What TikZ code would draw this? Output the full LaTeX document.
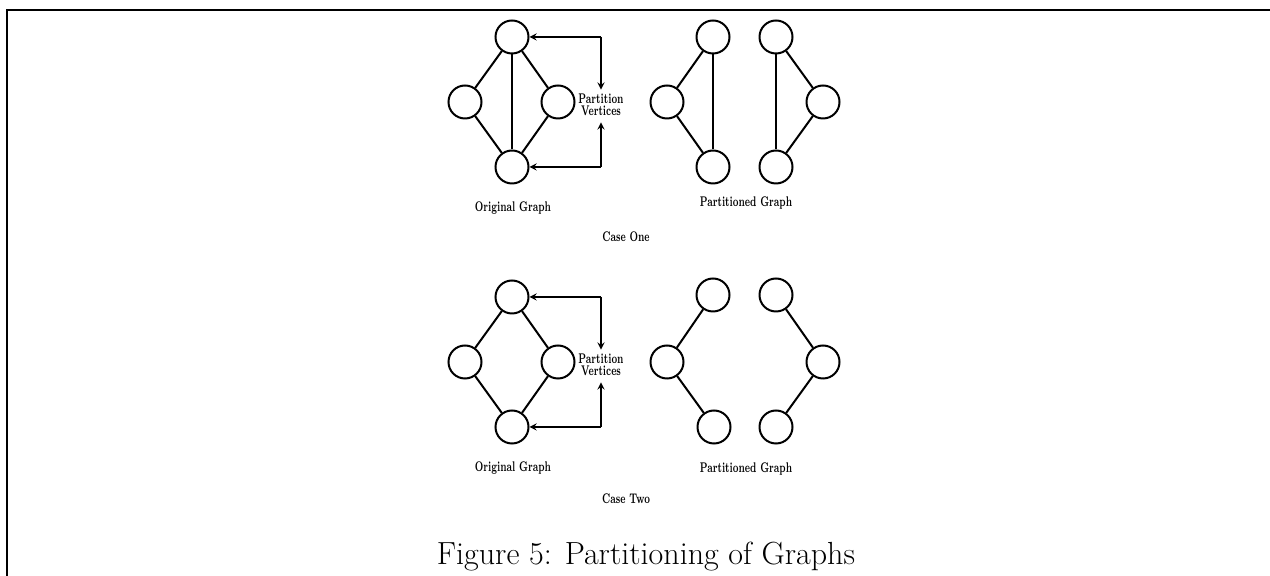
\documentclass[tikz,border=0pt]{standalone}
\usepackage{graphicx}
\usepackage{tikz}
\usetikzlibrary{arrows, positioning, calc}
\newcommand{\slimtext}[1]{\scalebox{0.63}[1]{\begin{tabular}{@{}c@{}}#1\end{tabular}}}
\tikzstyle{vertex} = [circle, draw, line width=1pt, minimum size=16.5pt, inner sep=0pt]
\tikzstyle{edge} = [line width=1pt]
\tikzstyle{arrow} = [semithick,->,>=stealth]
\tikzstyle{tag} = [font=\scriptsize\bfseries, inner sep=1pt]

\begin{document}
\begin{tikzpicture}[x=0.5pt, y=-0.5pt]
    \useasboundingbox (0,0) rectangle (1270,576);
    % Marco
    \draw [line width=1pt] (1270,10) -- (7,10) -- (7,576);

    % Caso uno: grafo original
    \node (t1) [vertex] at (512,37) {};
    \node (l1) [vertex] at (465,102) {};
    \node (r1) [vertex] at (558,102) {};
    \node (b1) [vertex] at (512,167) {};
    \draw [edge] (t1) -- (l1);
    \draw [edge] (t1) -- (r1);
    \draw [edge] (t1) -- (b1);
    \draw [edge] (l1) -- (b1);
    \draw [edge] (r1) -- (b1);
    \node (orig1) [tag] at (513,208) {\slimtext{Original Graph}};

    % Caso uno: vertices de particion
    \node (pv1) [tag] at (601,106) {\slimtext{Partition\\[-2pt] Vertices}};
    \coordinate (ct1) at (pv1.north |- t1);
    \coordinate (cb1) at (pv1.south |- b1);
    \draw [arrow] (ct1) -- (t1);
    \draw [arrow] (ct1) -- (pv1.north);
    \draw [arrow] (cb1) -- (b1);
    \draw [arrow] (cb1) -- (pv1.south);

    % Caso uno: grafo particionado
    \node (pa1) [vertex] at (713,37) {};
    \node (pb1) [vertex] at (667,102) {};
    \node (pc1) [vertex] at (713,167) {};
    \node (pd1) [vertex] at (776,37) {};
    \node (pe1) [vertex] at (823,102) {};
    \node (pf1) [vertex] at (776,167) {};
    \draw [edge] (pa1) -- (pb1);
    \draw [edge] (pb1) -- (pc1);
    \draw [edge] (pa1) -- (pc1);
    \draw [edge] (pd1) -- (pe1);
    \draw [edge] (pe1) -- (pf1);
    \draw [edge] (pd1) -- (pf1);
    \node (part1) [tag] at (746,203) {\slimtext{Partitioned Graph}};

    \node (case1) [tag] at (626,238) {\slimtext{Case One}};

    % Caso dos: grafo original
    \node (t2) [vertex] at (512,297) {};
    \node (l2) [vertex] at (465,362) {};
    \node (r2) [vertex] at (558,362) {};
    \node (b2) [vertex] at (512,427) {};
    \draw [edge] (t2) -- (l2);
    \draw [edge] (t2) -- (r2);
    \draw [edge] (l2) -- (b2);
    \draw [edge] (r2) -- (b2);
    \node (orig2) [tag] at (513,468) {\slimtext{Original Graph}};

    % Caso dos: vertices de particion
    \node (pv2) [tag] at (601,366) {\slimtext{Partition\\[-2pt] Vertices}};
    \coordinate (ct2) at (pv2.north |- t2);
    \coordinate (cb2) at (pv2.south |- b2);
    \draw [arrow] (ct2) -- (t2);
    \draw [arrow] (ct2) -- (pv2.north);
    \draw [arrow] (cb2) -- (b2);
    \draw [arrow] (cb2) -- (pv2.south);

    % Caso dos: grafo particionado
    \node (pa2) [vertex] at (713,295) {};
    \node (pb2) [vertex] at (667,362) {};
    \node (pc2) [vertex] at (714,427) {};
    \node (pd2) [vertex] at (776,295) {};
    \node (pe2) [vertex] at (823,362) {};
    \node (pf2) [vertex] at (776,427) {};
    \draw [edge] (pa2) -- (pb2);
    \draw [edge] (pb2) -- (pc2);
    \draw [edge] (pd2) -- (pe2);
    \draw [edge] (pe2) -- (pf2);
    \node (part2) [tag] at (746,469) {\slimtext{Partitioned Graph}};

    \node (case2) [tag] at (626,500) {\slimtext{Case Two}};

    % Titulo
    \node (caption) [font=\fontsize{16}{19}\selectfont] at (646,557) {Figure 5: Partitioning of Graphs};
\end{tikzpicture}
\end{document}
